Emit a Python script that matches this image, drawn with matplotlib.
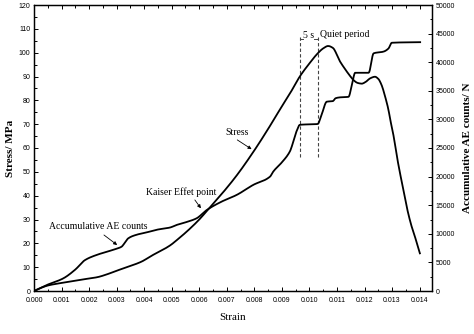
import matplotlib
matplotlib.use("Agg")
import matplotlib.pyplot as plt
from matplotlib.ticker import MultipleLocator, FormatStrFormatter
import numpy as np

# ---- data (strain in 1e-3 units) ----
stress_strain = [0, 0.25, 0.5, 0.8, 1.3, 1.8, 2.3, 2.7, 3.0, 3.5, 3.9, 4.3, 4.6, 4.95,
                 5.2, 5.6, 6.0, 6.27, 6.8, 7.36, 8.0, 8.5, 9.0, 9.35, 9.65, 10.0, 10.3,
                 10.5, 10.68, 10.85, 11.1, 11.3, 11.47, 11.6, 11.75, 11.9, 12.05, 12.2,
                 12.38, 12.5, 12.62, 12.75, 12.86, 12.95, 13.04, 13.22, 13.4, 13.53,
                 13.7, 13.83, 14.01]
stress_mpa = [0, 1.3, 2.3, 3.0, 3.9, 4.9, 5.8, 7.2, 8.5, 10.5, 12.3, 15.0, 16.8, 19.2,
              21.5, 25.5, 30.0, 33.5, 40.5, 48.5, 59.0, 68.0, 77.5, 84.0, 90.0, 95.5, 99.7,
              101.8, 102.8, 102.0, 96.5, 93.0, 90.3, 88.5, 87.3, 87.0, 87.8, 89.2,
              89.9, 89.0, 86.4, 81.5, 76.5, 71.0, 66.0, 53.6, 43.0, 35.4,
              27.5, 22.8, 15.8]

ae_strain = [0, 0.46, 1.06, 1.5, 1.85, 2.27, 2.6, 2.94, 3.18, 3.3, 3.42, 3.7, 4.09, 4.5,
             4.94, 5.18, 5.5, 5.9, 6.27, 6.8, 7.36, 7.96, 8.57, 8.69, 9.0, 9.29, 9.53,
             9.65, 10.3, 10.44, 10.63, 10.85, 10.95, 11.1, 11.42, 11.54, 11.66, 12.15,
             12.33, 12.69, 12.87, 12.99, 14.02]
ae_counts = [0, 1040, 2200, 3750, 5400, 6300, 6800, 7300, 7750, 8450, 9200, 9800, 10250, 10750,
             11100, 11550, 12000, 12700, 14150, 15600, 16800, 18550, 20000, 20900, 22500, 24400, 27900,
             29050, 29200, 30800, 33100, 33200, 33700, 33850, 33950, 36000, 38150, 38150,
             41550, 41850, 42400, 43400, 43500]

quiet_start, quiet_end = 9.65e-3, 10.30e-3

x_ticks = [0.000, 0.001, 0.002, 0.003, 0.004, 0.005, 0.006, 0.007, 0.008, 0.009,
           0.010, 0.011, 0.012, 0.013, 0.014]


def pchip(x, y, n=600):
    """Monotone piecewise cubic rendering of the read points (for smooth drawing)."""
    x = np.asarray(x, float)
    y = np.asarray(y, float)
    h = np.diff(x)
    d = np.diff(y) / h
    m = np.zeros_like(y)
    for k in range(1, len(x) - 1):
        if d[k - 1] * d[k] > 0:
            w1 = 2 * h[k] + h[k - 1]
            w2 = h[k] + 2 * h[k - 1]
            m[k] = (w1 + w2) / (w1 / d[k - 1] + w2 / d[k])
    m[0] = d[0]
    m[-1] = d[-1]
    xs = np.linspace(x[0], x[-1], n)
    idx = np.clip(np.searchsorted(x, xs) - 1, 0, len(h) - 1)
    t = (xs - x[idx]) / h[idx]
    h00 = 2 * t**3 - 3 * t**2 + 1
    h10 = t**3 - 2 * t**2 + t
    h01 = -2 * t**3 + 3 * t**2
    h11 = t**3 - t**2
    ys = (h00 * y[idx] + h10 * h[idx] * m[idx] + h01 * y[idx + 1]
          + h11 * h[idx] * m[idx + 1])
    return xs, ys


serif = "Liberation Serif"
sans = "Liberation Sans"

fig = plt.figure(figsize=(4.74, 3.34), dpi=100)
ax = fig.add_axes([34/474, 1-291/334, (432-34)/474, (291-5)/334])
ax2 = ax.twinx()

sx, sy = pchip(np.array(stress_strain) * 1e-3, stress_mpa)
axx, ayy = pchip(np.array(ae_strain) * 1e-3, ae_counts)
ax.plot(sx, sy, color="black", lw=1.3, zorder=3)
ax2.plot(axx, ayy, color="black", lw=1.3, zorder=3)

ax.set_xlim(0, 0.01445)
ax.set_ylim(0, 120)
ax2.set_ylim(0, 50000)

ax.set_xticks(x_ticks)
ax.xaxis.set_major_formatter(FormatStrFormatter("%.3f"))
ax.xaxis.set_minor_locator(MultipleLocator(0.0005))
ax.yaxis.set_major_locator(MultipleLocator(10))
ax.yaxis.set_minor_locator(MultipleLocator(5))
ax2.yaxis.set_major_locator(MultipleLocator(5000))
ax2.yaxis.set_minor_locator(MultipleLocator(2500))

ax.tick_params(which="both", direction="in", top=True, right=False, labelsize=5,
               width=0.7)
ax.tick_params(axis="x", pad=4)
ax.tick_params(axis="y", pad=2.5)
ax.tick_params(which="major", length=3)
ax.tick_params(which="minor", length=1.8)
ax2.tick_params(which="both", direction="in", labelsize=5, width=0.7, pad=2.5)
ax2.tick_params(which="major", length=3)
ax2.tick_params(which="minor", length=1.8)
for a in (ax, ax2):
    for lab in a.get_xticklabels() + a.get_yticklabels():
        lab.set_fontfamily(sans)
    for sp in a.spines.values():
        sp.set_linewidth(0.9)

ax.set_xlabel("Strain", fontsize=8, family=serif, labelpad=7)
ax.set_ylabel("Stress/ MPa", fontsize=8, family=serif, fontweight="bold", labelpad=3)
ax2.set_ylabel("Accumulative AE counts/ N", fontsize=8, family=serif, fontweight="bold",
               labelpad=6)

# quiet period markers
for xq in (quiet_start, quiet_end):
    ax.plot([xq, xq], [56.4, 107.5], ls=(0, (3, 2)), color="#444444", lw=0.8, zorder=2)
ax.plot([quiet_start, quiet_start + 0.00012], [105.6, 105.6], color="#444444", lw=0.7)
ax.plot([quiet_end - 0.00012, quiet_end], [105.6, 105.6], color="#444444", lw=0.7)
ax.text((quiet_start + quiet_end) / 2, 107.2, "5 s", fontsize=7, family=serif,
        ha="center", va="center")
ax.text(0.01129, 107.8, "Quiet period", fontsize=7, family=serif, ha="center", va="center")

arrow = dict(arrowstyle="-|>", color="black", lw=0.6, mutation_scale=5, shrinkA=0, shrinkB=0)
ax.text(0.00737, 66.7, "Stress", fontsize=7, family=serif, ha="center", va="center")
ax.annotate("", xy=(0.0079, 59.5), xytext=(0.00738, 63.4), arrowprops=arrow)
ax.text(0.00534, 41.5, "Kaiser Effet point", fontsize=7, family=serif, ha="center", va="center")
ax.annotate("", xy=(0.00606, 34.7), xytext=(0.00584, 38.2), arrowprops=arrow)
ax.text(0.00232, 26.9, "Accumulative AE counts", fontsize=7, family=serif, ha="center",
        va="center")
ax.annotate("", xy=(0.00302, 19.3), xytext=(0.00254, 23.5), arrowprops=arrow)

fig.savefig("out.png", dpi=100)
